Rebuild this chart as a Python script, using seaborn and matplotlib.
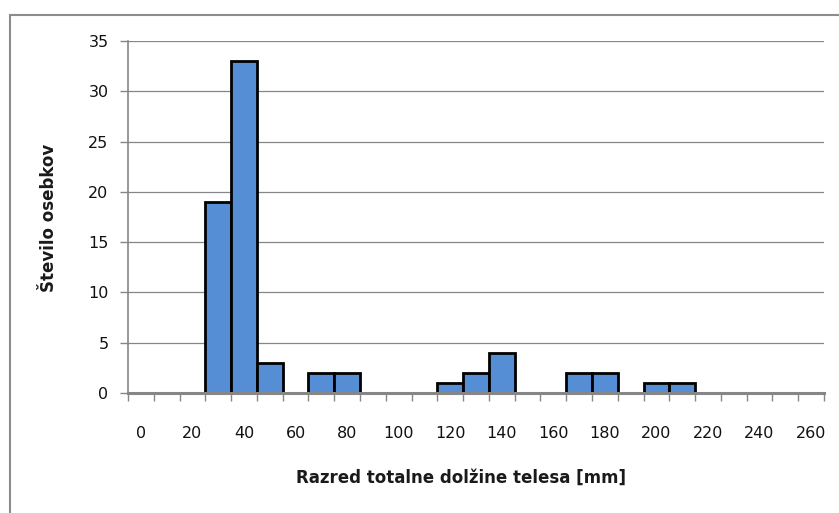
import matplotlib
matplotlib.use("Agg")
import matplotlib.pyplot as plt
import seaborn as sns
import pandas as pd
from matplotlib.patches import Rectangle

# Length classes (mm) and number of specimens in each class
classes = list(range(0, 270, 10))
counts = [0, 0, 0, 19, 33, 3, 0, 2, 2, 0, 0, 0, 1, 2, 4, 0, 0, 2, 2, 0, 1, 1, 0, 0, 0, 0, 0]
y_ticks = [0, 5, 10, 15, 20, 25, 30, 35]

df = pd.DataFrame({"razred": [str(c) for c in classes], "stevilo": counts})

sns.set_theme(style="white")
plt.rcParams["font.family"] = ["DejaVu Sans"]

W, H = 839, 513
fig = plt.figure(figsize=(W / 100, H / 100), dpi=100)
ax = fig.add_axes([128 / W, (H - 393) / H, (824 - 128) / W, (393 - 41) / H])

grid_col = "#868686"

sns.barplot(data=df, x="razred", y="stevilo", order=df["razred"], ax=ax,
            color="#558ed5", saturation=1, width=1.0,
            edgecolor="black", linewidth=2.0, zorder=3)

ax.set_xlim(-0.5, len(classes) - 0.5)
ax.set_ylim(0, 35)
ax.set_yticks(y_ticks)
ax.yaxis.grid(True, color=grid_col, linewidth=0.9, zorder=0)
ax.set_axisbelow(True)

# Labels on every second class; tick marks at every class boundary
major_pos = list(range(0, len(classes), 2))
ax.set_xticks(major_pos)
ax.set_xticklabels([str(classes[i]) for i in major_pos])
ax.set_xticks([i - 0.5 for i in range(len(classes) + 1)], minor=True)
ax.tick_params(axis="x", which="major", length=0, pad=24, labelsize=11.5, labelcolor="#111111")
ax.tick_params(axis="x", which="minor", length=6, width=1.0, color=grid_col, direction="out")
ax.tick_params(axis="y", which="major", length=6, width=1.0, color=grid_col, direction="out",
               pad=8, labelsize=11.5, labelcolor="#111111")
ax.yaxis.set_ticks_position("left")
ax.xaxis.set_ticks_position("bottom")

for s in ["top", "right"]:
    ax.spines[s].set_visible(False)
ax.spines["left"].set_color(grid_col)
ax.spines["left"].set_linewidth(1.2)
ax.spines["bottom"].set_color(grid_col)
ax.spines["bottom"].set_linewidth(2.2)
ax.spines["bottom"].set_zorder(4)

ax.set_xlabel("Razred totalne dolžine telesa [mm]", fontsize=12, fontweight="bold",
              color="#1a1a1a")
ax.set_ylabel("Število osebkov", fontsize=12, fontweight="bold", color="#1a1a1a")
ax.xaxis.set_label_coords((461 - 128) / (824 - 128), -(469 - 393) / (393 - 41))
ax.yaxis.set_label_coords(-(128 - 58) / (824 - 128), (393 - 218) / (393 - 41))

# Chart frame
fig.patches.append(Rectangle((10 / W, -0.1), 1.2, (H - 15) / H + 0.1, transform=fig.transFigure,
                             fill=False, edgecolor="#8c8c8c", linewidth=1.5))

fig.savefig("out.png", dpi=100)
